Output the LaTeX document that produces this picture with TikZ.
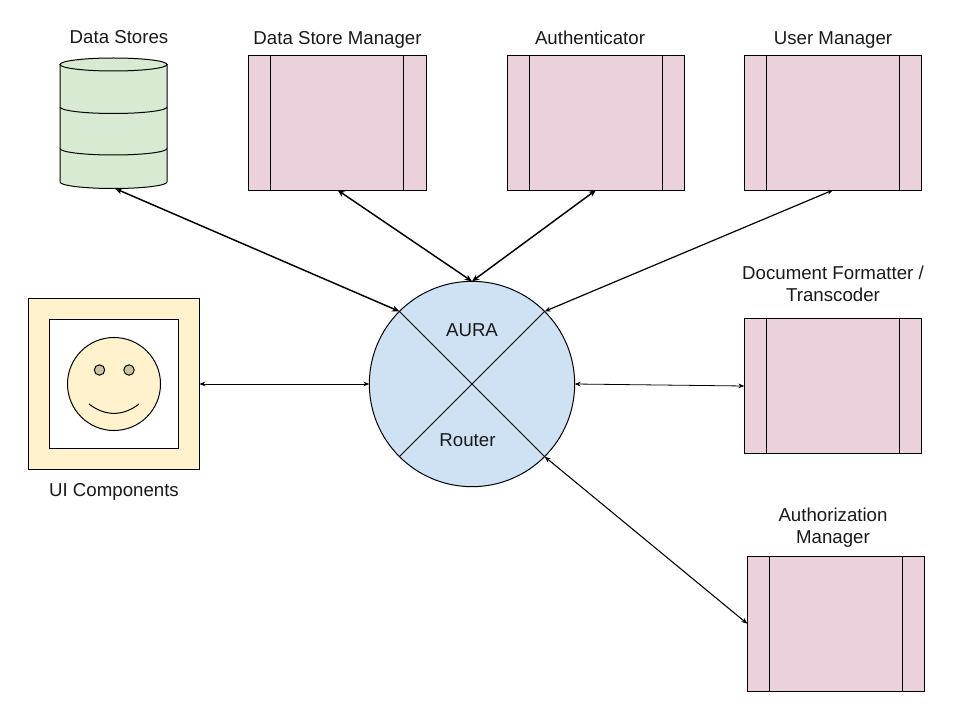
\documentclass[tikz,border=0pt]{standalone}
\usepackage{fontspec}
\setmainfont{Liberation Sans}
\usetikzlibrary{arrows.meta}
\definecolor{procfill}{HTML}{EAD1DC}
\definecolor{routerfill}{HTML}{CFE2F3}
\definecolor{storefill}{HTML}{D9EAD3}
\definecolor{facefill}{HTML}{FFF2CC}
\definecolor{eyefill}{HTML}{CCC3A6}
\tikzset{
	procbox/.style={draw,fill=procfill,line width=0.75pt,minimum width=133pt,minimum height=101pt,inner sep=0pt,outer sep=0pt,
		path picture={
			\draw[line width=0.75pt] ([xshift=16.5pt]path picture bounding box.north west) -- ([xshift=16.5pt]path picture bounding box.south west);
			\draw[line width=0.75pt] ([xshift=-17pt]path picture bounding box.north east) -- ([xshift=-17pt]path picture bounding box.south east);
		}},
	caption/.style={inner sep=0pt,align=center,font=\fontsize{14}{16.5}\selectfont,text=black!90},
	biglink/.style={{Stealth[length=5.5pt,width=4.5pt]}-{Stealth[length=5.5pt,width=4.5pt]},line width=1.1pt},
	thinlink/.style={{Stealth[length=4.5pt,width=3.5pt]}-{Stealth[length=4.5pt,width=3.5pt]},line width=0.6pt}
}
\begin{document}
\begin{tikzpicture}[x=0.75pt,y=0.75pt,yscale=-1,xscale=1]
	\useasboundingbox (0,0) rectangle (960,720);

	%Shape: Data store
	\draw [fill=storefill,line width=0.75pt] (60,64.5) -- (60,182) .. controls (60,185.6) and (84,188.5) .. (113.5,188.5) .. controls (143,188.5) and (167,185.6) .. (167,182) -- (167,64.5) -- cycle;
	\draw [fill=storefill,line width=0.75pt] (113.5,64.5) ellipse [x radius=53.5,y radius=6.5];
	\draw [line width=0.75pt] (60,107) .. controls (60,110.6) and (84,113.5) .. (113.5,113.5) .. controls (143,113.5) and (167,110.6) .. (167,107);
	\draw [line width=0.75pt] (60,148.5) .. controls (60,152.1) and (84,155) .. (113.5,155) .. controls (143,155) and (167,152.1) .. (167,148.5);
	\coordinate (dbbase) at (115,188.5);

	%Shape: UI frame and face
	\node (uiframe) [draw,fill=facefill,line width=0.75pt,minimum size=128pt,inner sep=0pt,outer sep=0pt] at (114,384) {};
	\node (uiscreen) [draw,fill=white,line width=0.75pt,minimum size=96.5pt,inner sep=0pt,outer sep=0pt] at (114,384) {};
	\draw [fill=facefill,line width=0.75pt] (114,384) circle [radius=46.5];
	\draw [fill=eyefill,line width=0.75pt] (99.5,370) circle [radius=5.2];
	\draw [fill=eyefill,line width=0.75pt] (129,370) circle [radius=5.2];
	\draw [line width=0.75pt] (89,404) .. controls (105,416.5) and (123,416.5) .. (139,404);

	%Shape: Router
	\node (aura) [circle,draw,fill=routerfill,line width=0.75pt,minimum size=154pt,inner sep=0pt,outer sep=0pt] at (472,384) {};
	\draw [line width=0.75pt] (aura.135) -- (aura.315);
	\draw [line width=0.75pt] (aura.45) -- (aura.225);

	%Shape: Components
	\node (dsmanager) [procbox] at (337.5,122.75) {};
	\node (authn) [procbox] at (596,122.75) {};
	\node (usermgr) [procbox] at (833,122.75) {};
	\node (formatter) [procbox] at (833,386) {};
	\node (authz) [procbox] at (836,623.75) {};

	% Text Node
	\node (dbtext) [caption,anchor=base] at (119,44) {Data Stores};
	\node (dsmtext) [caption,anchor=base] at (337.5,45) {Data Store Manager};
	\node (authntext) [caption,anchor=base] at (590,45) {Authenticator};
	\node (usertext) [caption,anchor=base] at (833,45) {User Manager};
	\node (fmttext) [caption] at (833,284) {Document Formatter /\\Transcoder};
	\node (authztext) [caption] at (833,528) {Authorization\\Manager};
	\node (uitext) [caption,anchor=base] at (114,496.5) {UI Components};
	\node (auratext) [caption] at (472,330) {AURA};
	\node (routertext) [caption] at (467.5,440) {Router};

	%Straight Lines
	\draw [biglink] (dbbase) -- (aura.135);
	\draw [biglink] (dsmanager.south) -- (aura.north);
	\draw [biglink] (authn.south) -- (aura.north);
	\draw [thinlink,line width=0.9pt] (usermgr.south) -- (aura.45);
	\draw [thinlink] (uiframe.east) -- (aura.west);
	\draw [thinlink] (formatter.west) -- (aura.east);
	\draw [thinlink,line width=0.8pt] (authz.west) -- (aura.315);
\end{tikzpicture}
\end{document}
